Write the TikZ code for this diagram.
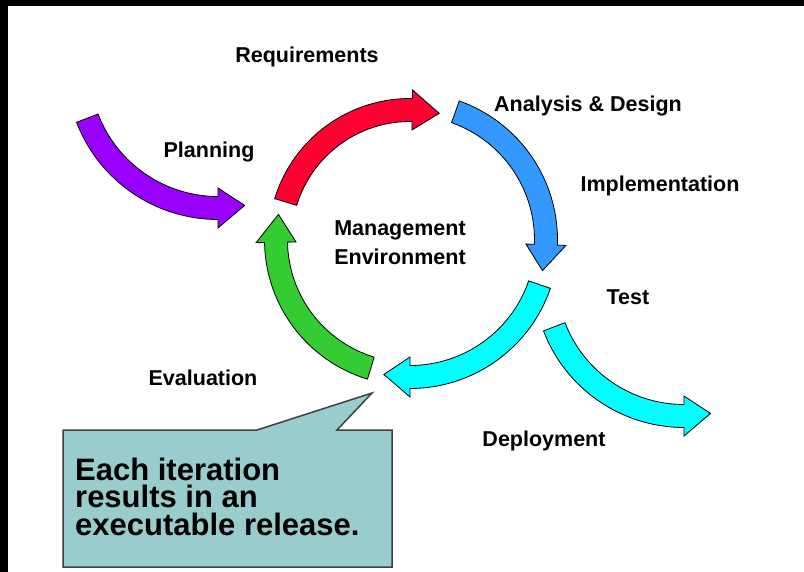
\documentclass[tikz,border=0pt]{standalone}
\usepackage{fontspec}
\setmainfont{Liberation Sans}
\definecolor{cred}{HTML}{FF0033}
\definecolor{cblue}{HTML}{3399FF}
\definecolor{ccyan}{HTML}{00FFFF}
\definecolor{cgreen}{HTML}{33CC33}
\definecolor{cpurple}{HTML}{9900FF}
\definecolor{cteal}{HTML}{99CCCC}
\newcommand{\ringarrow}[7]{%
  \filldraw[arrowline, fill=#7, shift={(#1,#2)}]
  (#4:{#3+11.5}) arc[start angle=#4, end angle=#5, radius={#3+11.5}]
  -- (#5:{#3+20}) -- (#6:#3) -- (#5:{#3-20}) -- (#5:{#3-11.5})
  arc[start angle=#5, end angle=#4, radius={#3-11.5}] -- cycle;}
\begin{document}
\begin{tikzpicture}[x=1pt,y=1pt,
  arrowline/.style={draw=black, line width=0.8pt, line join=miter},
  lbl/.style={inner sep=0pt, anchor=base, font=\fontsize{21.5}{28}\selectfont\bfseries},
  callout/.style={fill=cteal, draw=black!75, line width=1.5pt}]
\useasboundingbox (0,0) rectangle (804,-572);
\fill[white] (0,0) rectangle (804,-572);
\fill[black] (0,0) rectangle (804,-6);
\fill[black] (0,0) rectangle (8,-572);
% ring arrows
\ringarrow{410}{-240}{130}{163}{89}{77}{cred}
\ringarrow{410}{-240}{136}{70.5}{-2}{-13}{cblue}
\ringarrow{410}{-240}{137}{-19}{-90}{-101}{ccyan}
\ringarrow{410}{-240}{134}{253}{181}{169}{cgreen}
% side arrows
\ringarrow{218}{-68}{140}{201}{270}{281}{cpurple}
\ringarrow{684}{-277}{139}{201}{270}{281}{ccyan}
% labels
\node[lbl] (req) at (307,-63) {Requirements};
\node[lbl] (ana) at (588,-112) {Analysis \& Design};
\node[lbl] (plan) at (209,-158) {Planning};
\node[lbl] (impl) at (660,-192) {Implementation};
\node[lbl, anchor=north, align=center, font=\fontsize{21.5}{29}\selectfont\bfseries] (mgmt) at (400,-220.5) {Management\\Environment};
\node[lbl] (test) at (628,-305) {Test};
\node[lbl] (eval) at (203,-385) {Evaluation};
\node[lbl] (depl) at (544,-446) {Deployment};
% callout
\filldraw[callout] (63,-430) -- (257,-430) -- (372,-393) -- (337,-430) -- (392,-430) -- (392,-567) -- (63,-567) -- cycle;
\node[inner sep=0pt, anchor=north west, align=left, font=\fontsize{31}{27.5}\selectfont\bfseries] (note) at (75,-457.5) {Each iteration\\results in an\\executable release.};
\end{tikzpicture}
\end{document}
